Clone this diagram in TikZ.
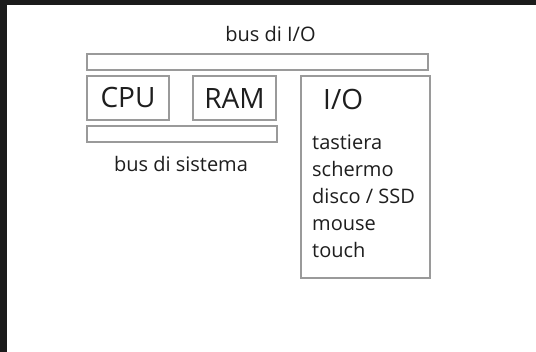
\documentclass[tikz,border=0pt]{standalone}
\usepackage{fontspec}
\setmainfont{Open Sans}
\usetikzlibrary{positioning}
\definecolor{framedark}{HTML}{1B1B1B}
\definecolor{linegray}{HTML}{9A9A9A}
\definecolor{inkdark}{HTML}{1E1E1E}
\tikzset{
  unit/.style={
	draw=linegray, line width=1.3pt, % grey outline of every block
	text=inkdark, inner sep=0pt,
	font=\fontsize{28}{34}\selectfont,
  },
  busbar/.style={draw=linegray, line width=1.3pt, inner sep=0pt, minimum height=16pt},
  caption/.style={text=inkdark, inner sep=0pt, font=\fontsize{20}{27}\selectfont},
}

\begin{document}
\begin{tikzpicture}[x=1pt, y=-1pt]
		\useasboundingbox (0,0) rectangle (536,352);
		\fill[framedark] (0,0) rectangle (536,352);
		\fill[white] (7,5) rectangle (536,352);

		% bus
		\node [busbar, minimum width=341pt] (busio) at (257.5,62) {};
		\node [busbar, minimum width=190pt] (bussys) at (182,134) {};
		\node [caption, anchor=base] (busiolabel) at (270.5,42) {bus di I/O};
		\node [caption, anchor=base] (bussyslabel) at (181,172) {bus di sistema};

		% blocchi
		\node [unit, minimum width=82pt, minimum height=44pt] (cpu) at (128,98) {CPU};
		\node [unit, minimum width=83pt, minimum height=44pt] (ram) at (234.5,98) {RAM};
		\node [unit, minimum width=129pt, minimum height=202pt] (io) at (365.5,177) {};
		\node [caption, font=\fontsize{28}{34}\selectfont, anchor=base west] (iolabel) at (323,109.5) {I/O};

		% dispositivi
		\foreach \dev [count=\i from 0] in {tastiera, schermo, disco / SSD, mouse, touch}
			\node [caption, anchor=base west] (dev\i) at (312,150+27*\i) {\dev};
\end{tikzpicture}
\end{document}
